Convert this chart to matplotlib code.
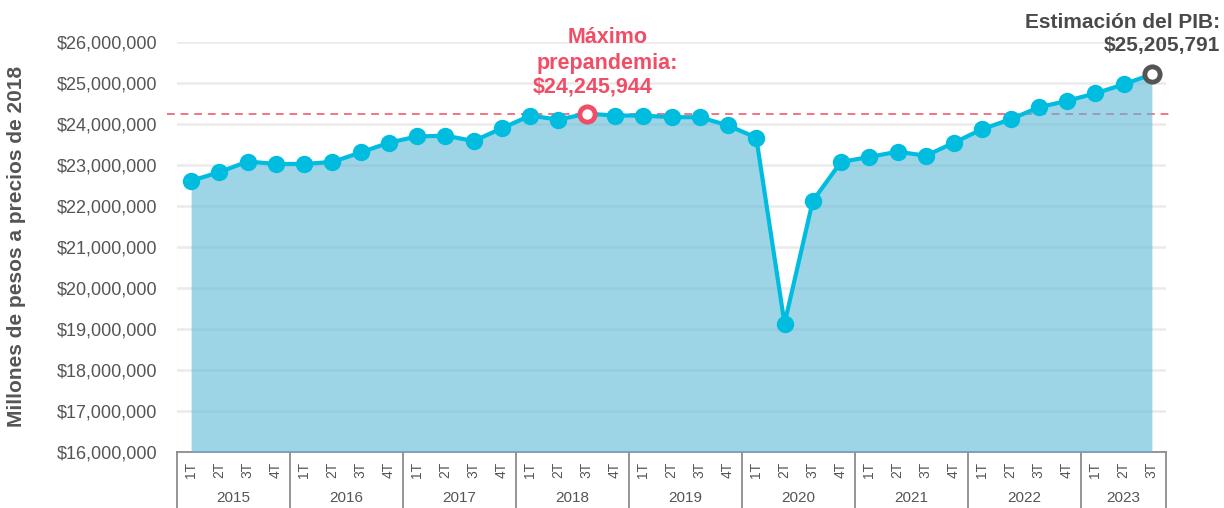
import numpy as np
import matplotlib
matplotlib.use('Agg')
import matplotlib.pyplot as plt
import matplotlib.transforms as mtransforms
from matplotlib.ticker import FuncFormatter

plt.rcParams['font.family'] = ['Liberation Sans', 'DejaVu Sans']

# PIB trimestral, millones de pesos a precios de 2018
years = ['2015', '2016', '2017', '2018', '2019', '2020', '2021', '2022', '2023']
quarters_per_year = [4, 4, 4, 4, 4, 4, 4, 4, 3]
quarter_names = ['1T', '2T', '3T', '4T']
pib = [22610000, 22820000, 23080000, 23020000,
       23020000, 23070000, 23300000, 23540000,
       23690000, 23710000, 23580000, 23890000,
       24200000, 24100000, 24245944, 24200000,
       24200000, 24160000, 24160000, 23960000,
       23660000, 19130000, 22120000, 23070000,
       23190000, 23320000, 23220000, 23540000,
       23870000, 24110000, 24400000, 24560000,
       24740000, 24960000, 25205791]
peak_title = 'Máximo\nprepandemia:'
peak_value = '$24,245,944'
last_label = 'Estimación del PIB:\n$25,205,791'

red = '#f04e66'
gray = '#555555'

x = np.arange(len(pib))
qlabels = [quarter_names[q] for n in quarters_per_year for q in range(n)]
peak_i = int(np.argmax(pib[:20]))

fig = plt.figure(figsize=(12.24, 5.08), dpi=100)
ax = fig.add_axes([177 / 1224, 56 / 508, 989 / 1224, 410.3 / 508])

ax.axhline(pib[peak_i], xmin=-0.01, xmax=1.007, color='#f27585', lw=1.4,
           ls=(0, (4, 3)), clip_on=False, zorder=2)
ax.fill_between(x, pib, 16e6, color='#5cb9d7', alpha=0.6, lw=0, zorder=3)
ax.plot(x, pib, color='#00bde0', lw=3, marker='o', ms=11.5, zorder=4)
ax.plot(x[peak_i], pib[peak_i], marker='o', ms=11, mfc='white', mec=red,
        mew=3.5, zorder=5)
ax.plot(x[-1], pib[-1], marker='o', ms=11, mfc='white', mec=gray,
        mew=3.5, zorder=5)

ax.annotate(peak_value, xy=(x[peak_i], pib[peak_i]), xytext=(4.5, 11.5),
            textcoords='offset points', ha='center', va='bottom',
            fontsize=15.5, fontweight='bold', color=red,
            annotation_clip=False)
ax.annotate(peak_title, xy=(x[peak_i], pib[peak_i]), xytext=(15, 28.5),
            textcoords='offset points', ha='center', va='bottom',
            fontsize=15.5, fontweight='bold', color=red, linespacing=1.3,
            annotation_clip=False)
ax.annotate(last_label, xy=(x[-1], pib[-1]), xytext=(49, 14),
            textcoords='offset points', ha='right', va='bottom',
            fontsize=15, fontweight='bold', color='#4a4a4a', linespacing=1.25,
            annotation_clip=False)

ax.set_xlim(-0.5, len(pib) - 0.5)
ax.set_ylim(16e6, 26e6)
ax.set_yticks(np.arange(16e6, 26e6 + 1, 1e6))
ax.yaxis.set_major_formatter(FuncFormatter(lambda v, p: '${:,.0f}'.format(v)))
ax.tick_params(axis='y', length=0, pad=14, labelsize=13, labelcolor=gray)
ax.set_xticks([])
ax.grid(axis='y', color='#ebebeb', lw=1.8)
ax.set_axisbelow(True)
for s in ax.spines.values():
    s.set_visible(False)

ax.set_ylabel('Millones de pesos a precios de 2018', fontsize=15,
              fontweight='bold', color=gray)
ax.yaxis.set_label_coords(-0.1527, 0.5)

# eje de categorias: trimestres y años
trans = mtransforms.blended_transform_factory(ax.transData, ax.transAxes)
line_c = '#8c8c8c'
ax.plot([-0.5, len(pib) - 0.5], [0, 0], color=line_c, lw=1.3,
        transform=trans, clip_on=False)
for i, q in enumerate(qlabels):
    ax.text(i, -0.044, q, rotation=90, ha='center', va='center',
            fontsize=10, color=gray, transform=trans)
edges = np.concatenate([[0], np.cumsum(quarters_per_year)]) - 0.5
for e in edges:
    ax.plot([e, e], [0, -0.137], color=line_c, lw=1.3, transform=trans,
            clip_on=False)
for y, a, b in zip(years, edges[:-1], edges[1:]):
    ax.text((a + b) / 2, -0.112, y, ha='center', va='center', fontsize=11,
            color=gray, transform=trans)

fig.savefig('out.png', dpi=100)
